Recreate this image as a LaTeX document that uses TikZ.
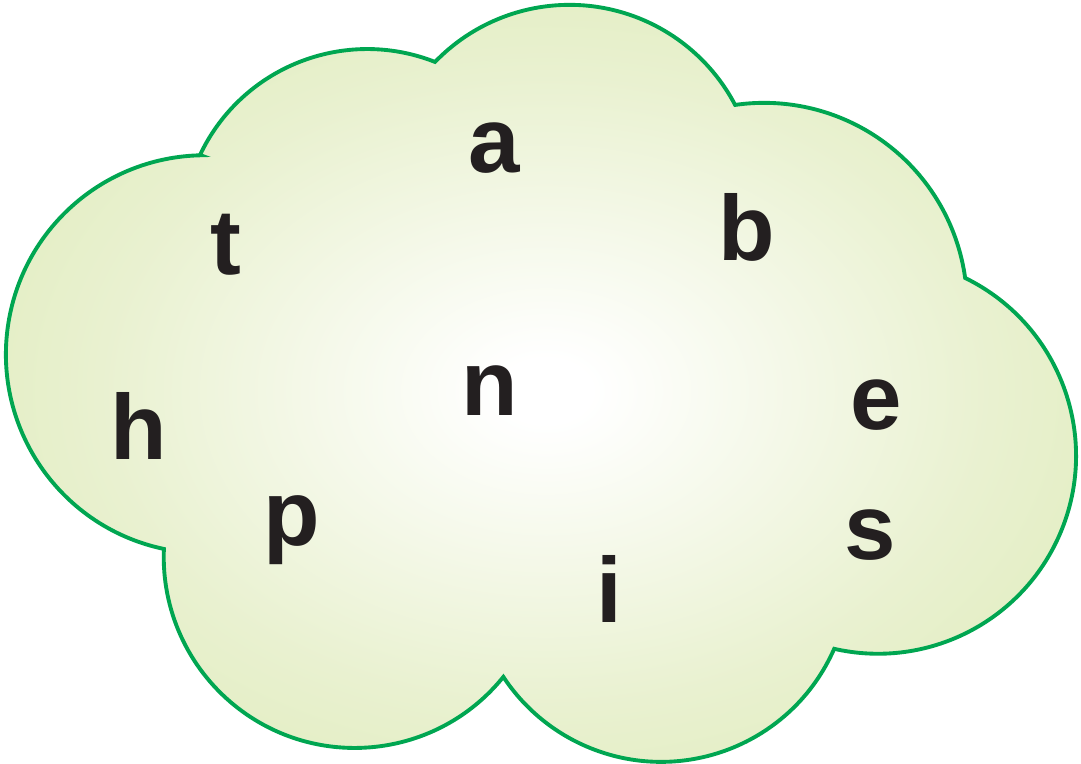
\documentclass[tikz,border=0pt]{standalone}
\usepackage{fontspec}
\setmainfont{Liberation Sans}
\usepackage{tikz}
\definecolor{xCloudLine}{RGB}{0,166,81}
\definecolor{xCloudFill}{RGB}{214,230,166}
\definecolor{xCloudEdge}{RGB}{211,228,160}
\definecolor{xCloudMid}{RGB}{233,241,208}
\definecolor{xLetter}{RGB}{35,31,32}

\pgfdeclareradialshading{cloudglow}{\pgfpoint{0bp}{0bp}}{%
    color(0bp)=(white);
    color(2bp)=(white);
    color(20bp)=(xCloudMid);
    color(42bp)=(xCloudFill);
    color(50bp)=(xCloudEdge)}

\begin{document}
\begin{tikzpicture}[x=0.01cm,y=-0.01cm,
    letter/.style={
        font=\fontsize{26.3}{30}\selectfont\bfseries,
        text=xLetter,
        inner sep=0pt,
        anchor=base
    }]

    % -------------------------------------------------
    % White background
    % -------------------------------------------------
    \fill[white] (0,0) rectangle (1081,763);
    \useasboundingbox (0,0) rectangle (1081,763);

    % -------------------------------------------------
    % Cloud outline
    %
    % Seven circular lobes, listed clockwise and
    % starting at the upper left notch (200,155).
    % Each arc ends on the next notch.
    % -------------------------------------------------
    \shadedraw[
        shading=cloudglow,
        draw=xCloudLine,
        line width=1.1pt,
        line join=miter
    ]
        (200,155)
        arc[start angle=205.3, end angle=291.5, radius=185]
        arc[start angle=224.0, end angle=332.3, radius=187]
        arc[start angle=261.8, end angle=352.1, radius=203]
        arc[start angle=296.1, end angle=462.8, radius=198]
        arc[start angle=23.7,  end angle=146.6, radius=189]
        arc[start angle=38.9,  end angle=182.4, radius=191]
        arc[start angle=101.9, end angle=268.8, radius=199]
        -- cycle;

    % -------------------------------------------------
    % Letters inside the cloud
    % -------------------------------------------------
    \node[letter] (a) at (494,172) {a};
    \node[letter] (b) at (747,260) {b};
    \node[letter] (t) at (226,274) {t};
    \node[letter] (n) at (490,415) {n};
    \node[letter] (e) at (876,429) {e};
    \node[letter] (h) at (139,459) {h};
    \node[letter] (p) at (292,545) {p};
    \node[letter] (s) at (870,559) {s};
    \node[letter] (i) at (609,622) {i};
\end{tikzpicture}
\end{document}
